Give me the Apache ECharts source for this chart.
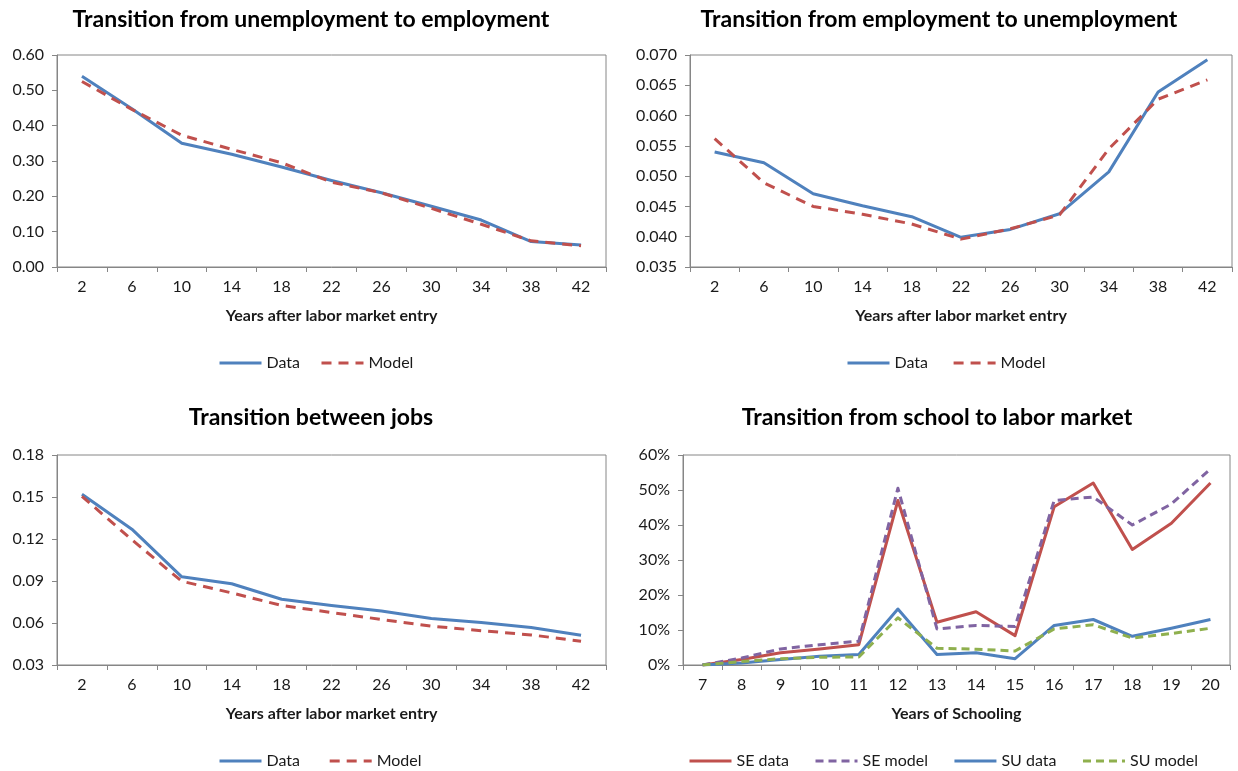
<!DOCTYPE html>
<html>
<head>
<meta charset="utf-8">
<title>Labor market transitions: data vs model</title>
<script src="https://cdn.jsdelivr.net/npm/echarts@6/dist/echarts.min.js"></script>
<style>
  html, body { margin: 0; padding: 0; background: #ffffff; }
  #chart { width: 1238px; height: 771px; }
</style>
</head>
<body>
<div id="chart"></div>
<script>
// Years after labor market entry (panels 1-3)
const yearsAfterEntry = ['2', '6', '10', '14', '18', '22', '26', '30', '34', '38', '42'];

// Transition from unemployment to employment
const ueData  = [0.540, 0.448, 0.350, 0.319, 0.283, 0.245, 0.210, 0.172, 0.133, 0.072, 0.062];
const ueModel = [0.525, 0.446, 0.373, 0.333, 0.295, 0.240, 0.210, 0.166, 0.121, 0.074, 0.060];

// Transition from employment to unemployment
const euData  = [0.0540, 0.0522, 0.0471, 0.0451, 0.0433, 0.0399, 0.0412, 0.0438, 0.0507, 0.0639, 0.0692];
const euModel = [0.0562, 0.0489, 0.0450, 0.0437, 0.0421, 0.0396, 0.0413, 0.0436, 0.0545, 0.0627, 0.0659];

// Transition between jobs
const jjData  = [0.152, 0.127, 0.093, 0.088, 0.077, 0.0725, 0.0685, 0.0632, 0.0603, 0.0568, 0.0512];
const jjModel = [0.1505, 0.1195, 0.0898, 0.0815, 0.0725, 0.0675, 0.0625, 0.0578, 0.0545, 0.0515, 0.047];

// Transition from school to labor market (percent)
const yearsOfSchooling = ['7', '8', '9', '10', '11', '12', '13', '14', '15', '16', '17', '18', '19', '20'];
const seData  = [0, 1.6, 3.5, 4.6, 5.8, 47.0, 12.2, 15.2, 8.4, 45.2, 52.0, 33.0, 40.5, 52.0];
const seModel = [0, 2.0, 4.6, 5.8, 6.8, 50.5, 10.3, 11.3, 11.0, 47.0, 48.0, 40.0, 46.0, 56.0];
const suData  = [0, 0.6, 1.6, 2.5, 3.0, 16.0, 3.0, 3.5, 1.8, 11.3, 13.0, 8.2, 10.5, 13.0];
const suModel = [0, 1.0, 1.8, 2.2, 2.3, 13.5, 4.8, 4.5, 4.0, 10.3, 11.5, 7.7, 9.0, 10.5];

// Panel titles and axis names
const panelTitles = [
  'Transition from unemployment to employment',
  'Transition from employment to unemployment',
  'Transition between jobs',
  'Transition from school to labor market'
];
const xNames = ['Years after labor market entry', 'Years after labor market entry',
                'Years after labor market entry', 'Years of Schooling'];

const FONT = 'Lato, "Open Sans", sans-serif';
const BLUE = '#4F81BD', RED = '#C0504D', PURPLE = '#8064A2', GREEN = '#8FB04E';
const AXIS = '#868686';

const grids = [
  { left: 57,  top: 55,  right: 632, bottom: 504 },
  { left: 690, top: 55,  right: 6,   bottom: 504 },
  { left: 57,  top: 455, right: 632, bottom: 106 },
  { left: 683, top: 455, right: 8,   bottom: 106 }
].map(g => Object.assign({ show: true, borderColor: AXIS, borderWidth: 1, containLabel: false }, g));

function xAxisFor(i, cats) {
  return {
    type: 'category', gridIndex: i, data: cats, boundaryGap: true,
    name: xNames[i], nameLocation: 'middle', nameGap: 41,
    nameTextStyle: { fontFamily: FONT, fontWeight: 'bold', fontSize: 16, color: '#1a1a1a' },
    axisLine: { lineStyle: { color: AXIS, width: 1 } },
    axisTick: { show: true, alignWithLabel: false, length: 5, lineStyle: { color: AXIS } },
    axisLabel: { fontFamily: FONT, fontSize: 16, color: '#1a1a1a', margin: 12, interval: 0 },
    splitLine: { show: false }
  };
}
function yAxisFor(i, min, max, step, fmt) {
  return {
    type: 'value', gridIndex: i, min: min, max: max, interval: step,
    axisLine: { show: true, lineStyle: { color: AXIS, width: 1 } },
    axisTick: { show: true, length: 5, lineStyle: { color: AXIS } },
    axisLabel: { fontFamily: FONT, fontSize: 16, color: '#1a1a1a', margin: 13, formatter: fmt },
    splitLine: { show: false }
  };
}
function lineSeries(name, i, data, color, dashed, width) {
  return {
    name: name, type: 'line', xAxisIndex: i, yAxisIndex: i, data: data,
    symbol: 'none', showSymbol: false, smooth: false,
    lineStyle: { color: color, width: width, type: dashed ? dashed : 'solid', cap: 'butt', join: 'round' },
    itemStyle: { color: color },
    emphasis: { disabled: true }
  };
}
function legendFor(names, left, top) {
  return {
    data: names, left: left, top: top, itemWidth: 42, itemHeight: 12, itemGap: 20,
    selectedMode: false,
    // line-only keys: the marker dot is made invisible
    itemStyle: { opacity: 0 },
    lineStyle: { width: 3 },
    textStyle: { fontFamily: FONT, fontSize: 16, color: '#1a1a1a' }
  };
}

const titleCenters = [[311, 20], [939, 20], [311, 418], [937, 418]];

const option = {
  animation: false,
  backgroundColor: '#ffffff',
  grid: grids,
  xAxis: [
    xAxisFor(0, yearsAfterEntry), xAxisFor(1, yearsAfterEntry),
    xAxisFor(2, yearsAfterEntry), xAxisFor(3, yearsOfSchooling)
  ],
  yAxis: [
    yAxisFor(0, 0, 0.6, 0.1, v => v.toFixed(2)),
    yAxisFor(1, 0.035, 0.07, 0.005, v => v.toFixed(3)),
    yAxisFor(2, 0.03, 0.18, 0.03, v => v.toFixed(2)),
    yAxisFor(3, 0, 60, 10, v => Math.round(v) + '%')
  ],
  legend: [
    legendFor([{ name: 'Data' }, { name: 'Model' }], 213, 350),
    legendFor([{ name: 'Data ' }, { name: 'Model ' }], 841, 350),
    legendFor([{ name: 'Data  ' }, { name: 'Model  ' }], 213, 748),
    Object.assign(legendFor(['SE data', 'SE model', 'SU data', 'SU model'], 683, 748), { itemGap: 25 })
  ],
  series: [
    lineSeries('Data', 0, ueData, BLUE, null, 3),
    lineSeries('Model', 0, ueModel, RED, [10, 7], 3),
    lineSeries('Data ', 1, euData, BLUE, null, 3),
    lineSeries('Model ', 1, euModel, RED, [10, 7], 3),
    lineSeries('Data  ', 2, jjData, BLUE, null, 3),
    lineSeries('Model  ', 2, jjModel, RED, [10, 7], 3),
    lineSeries('SE data', 3, seData, RED, null, 3),
    lineSeries('SE model', 3, seModel, PURPLE, [8, 5], 3),
    lineSeries('SU data', 3, suData, BLUE, null, 3),
    lineSeries('SU model', 3, suModel, GREEN, [8, 5], 3)
  ],
  graphic: panelTitles.map((t, i) => ({
    type: 'text', x: titleCenters[i][0], y: titleCenters[i][1], silent: true,
    style: {
      text: t, font: 'bold 23px ' + FONT, fill: '#000000',
      align: 'center', verticalAlign: 'middle', textAlign: 'center', textVerticalAlign: 'middle'
    }
  }))
};

const chart = echarts.init(document.getElementById('chart'), null, { renderer: 'canvas' });
chart.setOption(option);
</script>
</body>
</html>
